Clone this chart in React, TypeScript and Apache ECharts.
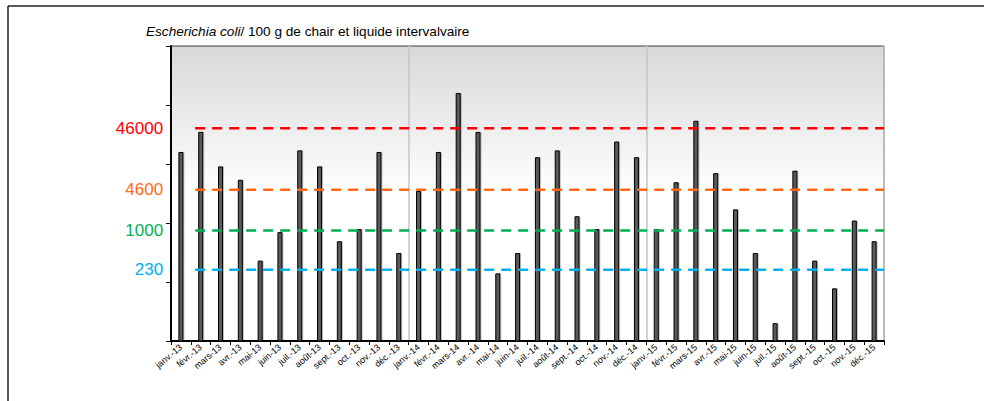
import React, { useEffect, useRef } from "react";
import * as echarts from "echarts";

// Tick labels (months)
const categories: string[] = [
  "janv.-13", "févr.-13", "mars-13", "avr.-13", "mai-13", "juin-13",
  "juil.-13", "août-13", "sept.-13", "oct.-13", "nov.-13", "déc.-13",
  "janv.-14", "févr.-14", "mars-14", "avr.-14", "mai-14", "juin-14",
  "juil.-14", "août-14", "sept.-14", "oct.-14", "nov.-14", "déc.-14",
  "janv.-15", "févr.-15", "mars-15", "avr.-15", "mai-15", "juin-15",
  "juil.-15", "août-15", "sept.-15", "oct.-15", "nov.-15", "déc.-15",
];

// E. coli / 100 g
const ecoliValues: number[] = [
  16000, 35000, 9100, 5400, 230, 700, 17000, 9100, 490, 790, 16000, 310,
  3500, 16000, 160000, 35000, 140, 310, 13000, 17000, 1300, 790, 24000, 13000,
  790, 4900, 54000, 7000, 1700, 310, 20, 7700, 230, 78, 1100, 490,
];

// Reference thresholds
const thresholdValues: number[] = [46000, 4600, 1000, 230];
const thresholdColors: string[] = ["#ff0000", "#ff6a13", "#00b050", "#00b0f0"];

const FONT = "Liberation Sans, Arial, sans-serif";

export default function App() {
  const ref = useRef<HTMLDivElement>(null);

  useEffect(() => {
    if (!ref.current) return;
    const chart = echarts.init(ref.current, undefined, { renderer: "svg" });

    const lineStart = 0.72;
    const lineEnd = 35.5;

    const thresholdSeries = thresholdValues.map((v, i) => ({
      type: "line",
      xAxisIndex: 1,
      yAxisIndex: 1,
      z: 5,
      symbol: "circle",
      symbolSize: 0.1,
      itemStyle: { color: thresholdColors[i] },
      lineStyle: { color: thresholdColors[i], width: 2.6, type: [10, 7] },
      data: [
        {
          value: [lineStart, v],
          label: {
            show: true,
            position: "left",
            distance: 32,
            formatter: String(v),
            color: thresholdColors[i],
            fontSize: 17,
            fontFamily: FONT,
          },
        },
        { value: [lineEnd, v], label: { show: false } },
      ],
    }));

    chart.setOption({
      animation: false,
      title: {
        text: "{i|Escherichia coli}{n|/ 100 g de chair et liquide intervalvaire}",
        left: 146,
        top: 24,
        padding: 0,
        textStyle: {
          fontWeight: "normal",
          rich: {
            i: { fontStyle: "italic", fontWeight: "normal", fontSize: 13.6, fontFamily: FONT, color: "#000" },
            n: { fontWeight: "normal", fontSize: 13.6, fontFamily: FONT, color: "#000" },
          },
        },
      },
      graphic: [
        { type: "line", shape: { x1: 8, y1: 6, x2: 984, y2: 6 }, style: { stroke: "#222", lineWidth: 1.5 }, z: 100 },
        { type: "line", shape: { x1: 8, y1: 6, x2: 8, y2: 401 }, style: { stroke: "#222", lineWidth: 1.5 }, z: 100 },
      ],
      grid: {
        left: 171,
        right: 100,
        top: 46,
        bottom: 60,
        show: true,
        borderColor: "#404040",
        borderWidth: 1,
        backgroundColor: new echarts.graphic.LinearGradient(0, 0, 0, 1, [
          { offset: 0, color: "#d8d8d8" },
          { offset: 0.5, color: "#ffffff" },
          { offset: 1, color: "#ffffff" },
        ]),
      },
      xAxis: [
        {
          type: "category",
          data: categories,
          boundaryGap: true,
          axisLine: { onZero: false, lineStyle: { color: "#000", width: 2 } },
          axisTick: { show: true, interval: 0, length: 4, lineStyle: { color: "#000", width: 1 } },
          axisLabel: {
            interval: 0,
            rotate: 40,
            fontSize: 9,
            fontFamily: FONT,
            color: "#000",
            margin: 5,
          },
          splitLine: {
            show: true,
            interval: (index: number) => index > 0 && index % 12 === 0,
            lineStyle: { color: "#c4c4c4", width: 1.5 },
          },
        },
        {
          type: "value",
          min: -0.5,
          max: 35.5,
          show: false,
        },
      ],
      yAxis: [
        {
          type: "log",
          logBase: 10,
          min: 10,
          max: 1000000,
          axisLine: { show: true, onZero: false, lineStyle: { color: "#000", width: 2 } },
          axisTick: { show: true, length: 5, lineStyle: { color: "#000", width: 1 } },
          axisLabel: { show: false },
          splitLine: { show: false },
        },
        {
          type: "log",
          logBase: 10,
          min: 16,
          max: 1000000,
          show: false,
          axisLine: { onZero: false },
          splitLine: { show: false },
        },
      ],
      series: [
        {
          type: "bar",
          data: ecoliValues,
          barWidth: 5,
          z: 3,
          itemStyle: {
            color: "#5a5a5a",
            borderColor: "#000",
            borderWidth: 1,
            shadowColor: "rgba(0,0,0,0.25)",
            shadowOffsetX: 1,
            shadowBlur: 1,
          },
        },
        ...thresholdSeries,
      ],
    });

    return () => chart.dispose();
  }, []);

  return (
    <div
      ref={ref}
      style={{ position: "fixed", left: 0, top: 0, width: 984, height: 401, background: "#fff" }}
    />
  );
}
